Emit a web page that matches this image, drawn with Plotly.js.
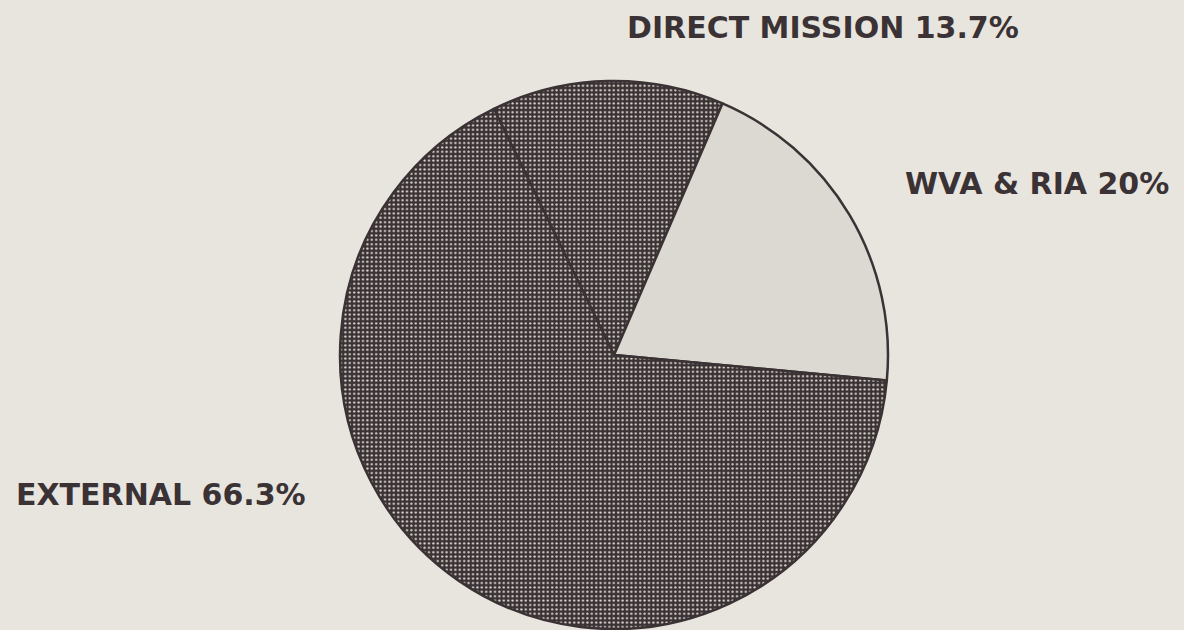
<!DOCTYPE html>
<html>
<head>
<meta charset="utf-8">
<script src="https://cdn.plot.ly/plotly-3.0.1.min.js"></script>
<style>html,body{margin:0;padding:0;background:#e8e5de;}</style>
</head>
<body>
<div id="chart" style="width:1184px;height:630px;"></div>
<script>
const categories = ["DIRECT MISSION", "WVA & RIA", "EXTERNAL"];
const values = [13.7, 20, 66.3];
const labelTexts = ["DIRECT MISSION 13.7%", "WVA & RIA 20%", "EXTERNAL 66.3%"];

const ink = "#3a3234";
const trace = {
  type: "pie",
  labels: categories,
  values: values,
  sort: false,
  direction: "clockwise",
  rotation: -26,
  textinfo: "none",
  hoverinfo: "label+percent",
  showlegend: false,
  domain: {x: [0.2872, 0.75], y: [0.0016, 0.8714]},
  marker: {
    colors: ["#3a3234", "#dcd9d2", "#3a3234"],
    line: {color: ink, width: 2.5},
    pattern: {
      shape: [".", "", "."],
      bgcolor: ["#3a3234", "#dcd9d2", "#3a3234"],
      fgcolor: ["#dcd8d0", "#dcd9d2", "#dcd8d0"],
      size: 4.4,
      solidity: 0.22,
      fillmode: "replace"
    }
  }
};

const labelPos = [
  {x: 0.5280, y: 0.9556},
  {x: 0.7630, y: 0.7095},
  {x: 0.0120, y: 0.2143}
];

const annotations = labelTexts.map((t, i) => ({
  text: t,
  xref: "paper", yref: "paper",
  x: labelPos[i].x, y: labelPos[i].y,
  xanchor: "left", yanchor: "middle",
  showarrow: false,
  font: {family: "DejaVu Sans, sans-serif", size: 30, color: ink, weight: "bold"}
}));

const layout = {
  width: 1184, height: 630,
  margin: {l: 0, r: 0, t: 0, b: 0},
  paper_bgcolor: "#e8e5de",
  plot_bgcolor: "#e8e5de",
  annotations: annotations
};

Plotly.newPlot("chart", [trace], layout, {displayModeBar: false, staticPlot: true});
</script>
</body>
</html>
